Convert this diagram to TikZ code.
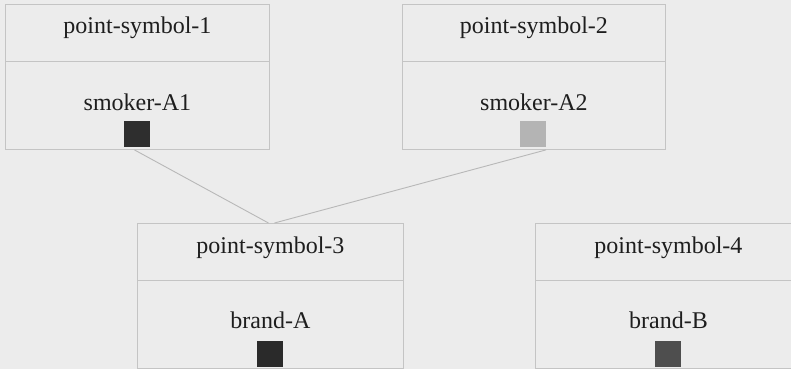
\documentclass[tikz,border=0pt]{standalone}
\usepackage{fontspec}
\setmainfont{Liberation Serif}
\definecolor{paper}{HTML}{ECECEC}
\definecolor{boxline}{HTML}{C4C4C4}
\definecolor{linkgray}{HTML}{B8B8B8}
\definecolor{ink}{HTML}{1E1E1E}
\definecolor{symdark}{HTML}{2E2E2E}
\definecolor{symlight}{HTML}{B4B4B4}
\definecolor{symblack}{HTML}{2A2A2A}
\definecolor{symmid}{HTML}{4E4E4E}
\begin{document}
\begin{tikzpicture}[x=1pt,y=-1pt,
  panel/.style={draw=boxline, line width=0.9pt, minimum height=145pt,
                inner sep=0pt, anchor=north west},
  lbl/.style={font=\fontsize{24}{28}\selectfont, text=ink, inner sep=0pt, anchor=base},
  swatch/.style={minimum size=26pt, inner sep=0pt, anchor=north},
  link/.style={draw=linkgray, line width=0.9pt}]

  % page background
  \fill[paper] (0,0) rectangle (791,369);
  \useasboundingbox (0,0) rectangle (791,369);

  % panels
  \node[panel, minimum width=264pt] (p1) at (5,4) {};
  \node[panel, minimum width=263pt] (p2) at (402,4) {};
  \node[panel, minimum width=266pt] (p3) at (137,223) {};
  \node[panel, minimum width=266pt] (p4) at (535,223) {};

  % dividers under the titles
  \foreach \p in {p1,p2,p3,p4}
    \draw[boxline, line width=0.9pt] ([yshift=-57pt]\p.north west) -- ([yshift=-57pt]\p.north east);

  % titles
  \node[lbl] (t1) at ([yshift=-30pt]p1.north) {point-symbol-1};
  \node[lbl] (t2) at ([yshift=-30pt]p2.north) {point-symbol-2};
  \node[lbl] (t3) at ([yshift=-30pt]p3.north) {point-symbol-3};
  \node[lbl] (t4) at ([yshift=-30pt]p4.north) {point-symbol-4};

  % contents
  \node[lbl] (c1) at ([yshift=-106pt]p1.north) {smoker-A1};
  \node[lbl] (c2) at ([yshift=-106pt]p2.north) {smoker-A2};
  \node[lbl] (c3) at ([yshift=-105pt]p3.north) {brand-A};
  \node[lbl] (c4) at ([yshift=-105pt]p4.north) {brand-B};

  % symbol swatches
  \node[swatch, fill=symdark] (s1) at ([yshift=-117pt]p1.north) {};
  \node[swatch, fill=symlight] (s2) at ([xshift=-1pt,yshift=-117pt]p2.north) {};
  \node[swatch, fill=symblack] (s3) at ([yshift=-118pt]p3.north) {};
  \node[swatch, fill=symmid] (s4) at ([yshift=-118pt]p4.north) {};

  % links between panels
  \coordinate (e1) at ([xshift=-3pt]p1.south);
  \coordinate (e2) at ([xshift=12pt]p2.south);
  \draw[link] (e1) -- ([xshift=-2pt]p3.north);
  \draw[link] (e2) -- ([xshift=4pt]p3.north);
\end{tikzpicture}
\end{document}
